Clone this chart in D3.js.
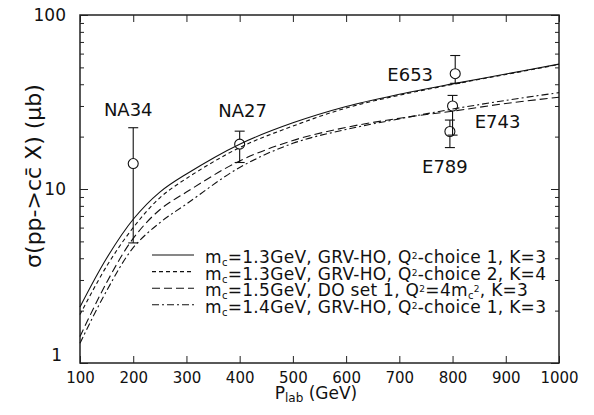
<!DOCTYPE html>
<html>
<head>
<meta charset="utf-8">
<script src="https://cdn.jsdelivr.net/npm/d3@7"></script>
<style>
  body { margin: 0; background: #fff; }
  text { font-family: "DejaVu Sans", sans-serif; fill: #111; }
</style>
</head>
<body>
<div id="container"></div>
<script>
// theory curves, sigma in microbarn vs P_lab in GeV
let pLab = [100, 150, 200, 250, 300, 400, 500, 600, 700, 800, 900, 1000];
let sigmaSolid     = [2.1, 4.0, 6.7, 9.6, 12.2, 18.1, 24.0, 29.8, 35.0, 40.2, 45.8, 52.2];
let sigmaShortDash = [1.9, 3.6, 6.0, 8.9, 11.5, 17.3, 23.0, 29.2, 34.6, 39.9, 45.5, 52.0];
let sigmaLongDash  = [1.42, 2.9, 5.2, 7.6, 9.6, 14.5, 19.0, 22.6, 25.5, 28.0, 31.0, 33.7];
let sigmaDashDot   = [1.3, 2.6, 4.6, 6.4, 8.2, 13.3, 18.3, 22.0, 25.3, 28.8, 32.3, 35.8];

// experiments
let expNames = ["NA34", "NA27", "E653", "E743", "E789"];
let expP     = [200, 400, 805, 800, 795];
let expSigma = [14.0, 18.1, 46.0, 30.0, 21.4];
let expHigh  = [22.5, 21.5, 58.5, 34.5, 24.9];
let expLow   = [4.9, 14.2, 40.5, 20.4, 17.3];

let xTicks = [100, 200, 300, 400, 500, 600, 700, 800, 900, 1000];
let yMajor = [1, 10, 100];

let w = 594;
let h = 415;
let padL = 80, padR = 559, padT = 15, padB = 363;

let viz = d3.select("#container")
  .append("svg")
    .attr("width", w)
    .attr("height", h)
;

let xScale = d3.scaleLinear().domain([100, 1000]).range([padL, padR]);
let yScale = d3.scaleLog().domain([1, 100]).range([padB, padT]);

// minor log ticks 2..9 in each decade
let yMinor = [];
[1, 10].forEach(function(d){
  for (let k = 2; k <= 9; k++) yMinor.push(d * k);
});

// axes, all ticks pointing inward
let xAxis = d3.axisBottom(xScale).tickValues(xTicks).tickSize(-7).tickSizeOuter(0).tickPadding(9).tickFormat(d3.format("d"));
let xg = viz.append("g").attr("transform", "translate(0," + padB + ")").call(xAxis);
xg.selectAll("text").style("font-size", "15px");

viz.append("g").attr("transform", "translate(0," + padT + ")")
  .call(d3.axisTop(xScale).tickValues(xTicks).tickSize(-7).tickSizeOuter(0).tickFormat(""));

let yg = viz.append("g").attr("transform", "translate(" + padL + ",0)")
  .call(d3.axisLeft(yScale).tickValues(yMajor).tickSize(-8).tickSizeOuter(0).tickPadding(14).tickFormat(d3.format("d")));
yg.selectAll("text").style("font-size", "17px");
// the "1" label sits above the corner so it does not hit "100"
yg.selectAll(".tick").filter(d => d === 1).select("text").attr("x", -18).attr("dy", "-0.15em");

viz.append("g").attr("transform", "translate(" + padL + ",0)")
  .call(d3.axisLeft(yScale).tickValues(yMinor).tickSize(-4).tickSizeOuter(0).tickFormat(""));
viz.append("g").attr("transform", "translate(" + padR + ",0)")
  .call(d3.axisRight(yScale).tickValues(yMajor).tickSize(-8).tickSizeOuter(0).tickFormat(""));
viz.append("g").attr("transform", "translate(" + padR + ",0)")
  .call(d3.axisRight(yScale).tickValues(yMinor).tickSize(-4).tickSizeOuter(0).tickFormat(""));

viz.selectAll(".domain").remove();
viz.selectAll(".tick line").attr("stroke", "#222");

viz.append("rect")
  .attr("x", padL).attr("y", padT)
  .attr("width", padR - padL).attr("height", padB - padT)
  .attr("fill", "none").attr("stroke", "#222").attr("stroke-width", 1.5);

// curves
let curves = [
  { values: sigmaSolid, dash: null },
  { values: sigmaShortDash, dash: "4,3" },
  { values: sigmaLongDash, dash: "8,4" },
  { values: sigmaDashDot, dash: "7,3,2,3" }
];

let lineMaker = d3.line()
  .x((d, i) => xScale(pLab[i]))
  .y(d => yScale(d))
  .curve(d3.curveCatmullRom.alpha(0.5));

viz.append("g").selectAll("path")
  .data(curves)
  .enter().append("path")
    .attr("d", d => lineMaker(d.values))
    .attr("fill", "none")
    .attr("stroke", "#111")
    .attr("stroke-width", 1.1)
    .attr("stroke-dasharray", d => d.dash);

// data points with error bars
let points = expNames.map(function(n, i){
  return { name: n, p: expP[i], s: expSigma[i], hi: expHigh[i], lo: expLow[i] };
});
let r = 5, cap = 5;
let pg = viz.append("g").attr("stroke", "#111").attr("stroke-width", 1.1).attr("fill", "none");
points.forEach(function(d){
  let x = xScale(d.p), y = yScale(d.s), yh = yScale(d.hi), yl = yScale(d.lo);
  pg.append("line").attr("x1", x).attr("x2", x).attr("y1", yh).attr("y2", y - r);
  pg.append("line").attr("x1", x).attr("x2", x).attr("y1", y + r).attr("y2", yl);
  pg.append("line").attr("x1", x - cap).attr("x2", x + cap).attr("y1", yh).attr("y2", yh);
  pg.append("line").attr("x1", x - cap).attr("x2", x + cap).attr("y1", yl).attr("y2", yl);
  pg.append("circle").attr("cx", x).attr("cy", y).attr("r", r);
});

// experiment names, offsets from their points in pixels
let labelOffsets = [[-5, -48], [3, -27], [-45, 7], [45, 22], [-5, 41]];
viz.append("g").selectAll("text")
  .data(points)
  .enter().append("text")
    .attr("x", (d, i) => xScale(d.p) + labelOffsets[i][0])
    .attr("y", (d, i) => yScale(d.s) + labelOffsets[i][1])
    .attr("text-anchor", "middle")
    .style("font-size", "18px")
    .text(d => d.name);

// legend
let legendRows = [
  [["m", 0], ["c", -1], ["=1.3GeV, GRV-HO, Q", 0], ["2", 1], ["-choice 1, K=3", 0]],
  [["m", 0], ["c", -1], ["=1.3GeV, GRV-HO, Q", 0], ["2", 1], ["-choice 2, K=4", 0]],
  [["m", 0], ["c", -1], ["=1.5GeV, DO set 1, Q", 0], ["2", 1], ["=4m", 0], ["c", -1], ["2", 1], [", K=3", 0]],
  [["m", 0], ["c", -1], ["=1.4GeV, GRV-HO, Q", 0], ["2", 1], ["-choice 1, K=3", 0]]
];
let legend = viz.append("g");
legendRows.forEach(function(row, i){
  let y = 263 + i * 16.6;
  legend.append("line")
    .attr("x1", 152).attr("x2", 194)
    .attr("y1", y - 8).attr("y2", y - 8)
    .attr("stroke", "#111").attr("stroke-width", 1.1)
    .attr("stroke-dasharray", curves[i].dash);
  let t = legend.append("text").attr("x", 205).attr("y", y)
    .style("font-size", "17px").style("letter-spacing", "0.3px");
  row.forEach(function(part){
    let ts = t.append("tspan").text(part[0]);
    if (part[1] === -1) ts.attr("baseline-shift", "-25%").style("font-size", "10px");
    if (part[1] === 1) ts.attr("baseline-shift", "50%").style("font-size", "9px");
  });
});

// axis titles
let xl = viz.append("text")
  .attr("x", 316).attr("y", 399)
  .attr("text-anchor", "middle")
  .style("font-size", "17px");
xl.append("tspan").text("P");
xl.append("tspan").text("lab").attr("baseline-shift", "-25%").style("font-size", "12px");
xl.append("tspan").text(" (GeV)");

viz.append("text")
  .attr("transform", "translate(41,176) rotate(-90)")
  .attr("text-anchor", "middle")
  .style("font-size", "22px")
  .text("\u03c3(pp->cc\u0304 X) (\u03bcb)");
</script>
</body>
</html>
